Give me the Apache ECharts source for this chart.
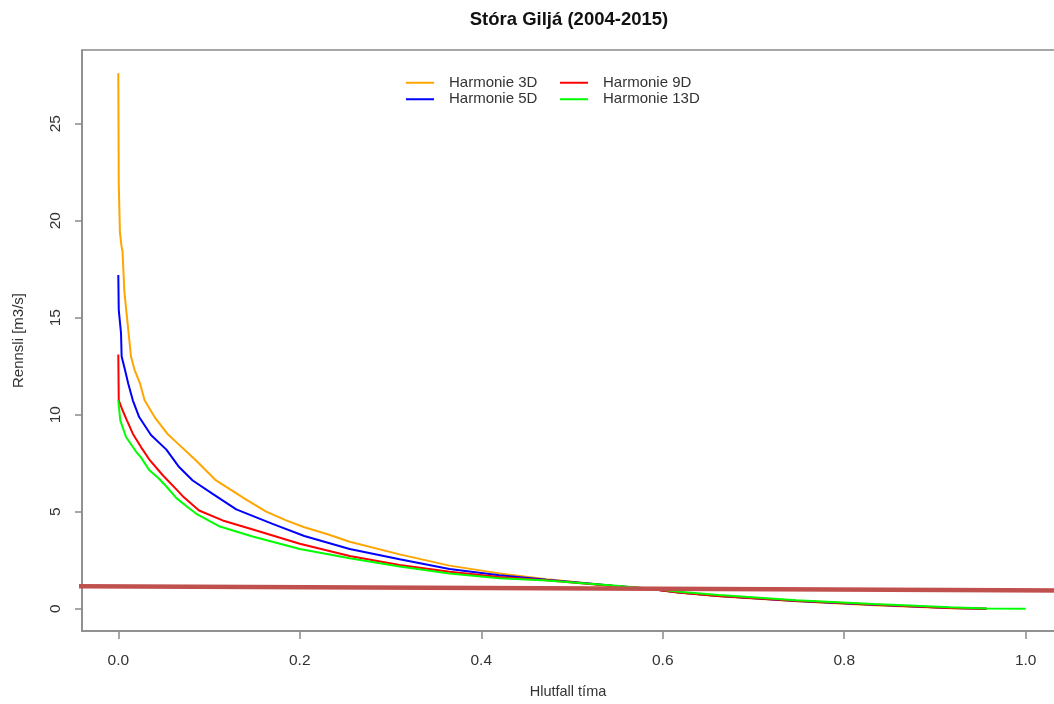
<!DOCTYPE html>
<html>
<head>
<meta charset="utf-8">
<script src="https://cdn.jsdelivr.net/npm/echarts@6/dist/echarts.min.js"></script>
<style>
html,body{margin:0;padding:0;background:#fff;overflow:hidden;}
#chart{width:1062px;height:704px;}
</style>
</head>
<body>
<div id="chart"></div>
<script>
// ---- data ----
const titleText = 'Stóra Giljá (2004-2015)';
const xName = 'Hlutfall tíma';
const yName = 'Rennsli [m3/s]';
const xTicks = [0, 0.2, 0.4, 0.6, 0.8, 1.0];
const yTicks = [0, 5, 10, 15, 20, 25];
const seriesNames = ['Harmonie 3D', 'Harmonie 5D', 'Harmonie 9D', 'Harmonie 13D'];

const h3x = [0, 0.0005, 0.0015, 0.0018, 0.0026, 0.0035, 0.0047, 0.0066, 0.0095, 0.014, 0.018, 0.024, 0.029, 0.040, 0.054, 0.0636, 0.0857, 0.1077, 0.141, 0.163, 0.185, 0.205, 0.229, 0.255, 0.31, 0.365, 0.42, 0.472, 0.545, 0.582, 0.618, 0.662, 0.747, 0.832, 0.917, 0.957];
const h3y = [27.6, 21.9, 21.8, 19.4, 19.3, 18.7, 18.4, 16.4, 15.05, 13.0, 12.3, 11.6, 10.74, 9.88, 9.02, 8.6, 7.64, 6.61, 5.62, 5.0, 4.55, 4.2, 3.86, 3.45, 2.8, 2.22, 1.82, 1.52, 1.18, 1.04, 0.82, 0.64, 0.38, 0.18, 0.02, 0.0];

const h5x = [0, 0.0005, 0.003, 0.0037, 0.0074, 0.011, 0.016, 0.023, 0.036, 0.053, 0.067, 0.082, 0.104, 0.13, 0.17, 0.205, 0.255, 0.31, 0.365, 0.42, 0.472, 0.545, 0.582, 0.618, 0.662, 0.747, 0.832, 0.917, 0.957];
const h5y = [17.2, 15.4, 14.2, 13.0, 12.3, 11.6, 10.74, 9.88, 8.95, 8.2, 7.3, 6.61, 5.92, 5.12, 4.37, 3.75, 3.08, 2.55, 2.05, 1.72, 1.49, 1.18, 1.04, 0.84, 0.66, 0.40, 0.20, 0.04, 0.0];

const h9x = [0, 0.0005, 0.0047, 0.0095, 0.016, 0.025, 0.034, 0.049, 0.064, 0.071, 0.089, 0.115, 0.152, 0.2, 0.255, 0.31, 0.365, 0.42, 0.472, 0.545, 0.582, 0.618, 0.662, 0.747, 0.832, 0.917, 0.957];
const h9y = [13.1, 10.74, 10.23, 9.71, 9.02, 8.33, 7.7, 6.88, 6.15, 5.8, 5.06, 4.55, 4.03, 3.35, 2.72, 2.25, 1.9, 1.63, 1.46, 1.17, 1.04, 0.84, 0.66, 0.41, 0.21, 0.04, 0.0];

const h13x = [0, 0.0022, 0.0085, 0.0195, 0.025, 0.034, 0.045, 0.053, 0.064, 0.078, 0.086, 0.111, 0.148, 0.2, 0.255, 0.31, 0.365, 0.42, 0.472, 0.545, 0.582, 0.618, 0.662, 0.747, 0.832, 0.917, 0.957, 1.0];
const h13y = [10.74, 9.71, 8.85, 8.1, 7.8, 7.15, 6.7, 6.3, 5.7, 5.18, 4.89, 4.25, 3.72, 3.08, 2.6, 2.17, 1.82, 1.57, 1.45, 1.19, 1.06, 0.87, 0.70, 0.44, 0.24, 0.07, 0.01, 0.0];

const refLineX = [-0.048, 1.05];
const refLineY = [1.16, 0.93];

// ---- build ----
const pairs = (xs, ys) => xs.map((x, i) => [x, ys[i]]);
const colors = ['#FFA500', '#0000FF', '#FF0000', '#00FF00'];
const FONT = "'Liberation Sans', Arial, sans-serif";
const txt = '#333';
const boxColor = '#8a8a8a';

const chart = echarts.init(document.getElementById('chart'), null, {renderer: 'canvas'});
const curveData = [pairs(h3x, h3y), pairs(h5x, h5y), pairs(h9x, h9y), pairs(h13x, h13y)];

const series = seriesNames.map((n, i) => ({
  name: n, type: 'line', data: curveData[i], showSymbol: false, symbol: 'none',
  lineStyle: {color: colors[i], width: 2}, itemStyle: {color: colors[i]},
  animation: false, z: 2 + i
}));
series.push({
  name: 'ref', type: 'line', data: pairs(refLineX, refLineY), showSymbol: false, symbol: 'none',
  clip: false, lineStyle: {color: '#C0504D', width: 4.5}, animation: false, z: 10, silent: true
});

const legendCommon = {
  orient: 'vertical', top: 74.5, icon: 'rect', itemWidth: 28, itemHeight: 2, itemGap: 0,
  padding: 0, textStyle: {fontFamily: FONT, fontSize: 15, color: txt, lineHeight: 16.5, padding: [0, 0, 0, 10]}
};

chart.setOption({
  backgroundColor: '#fff',
  animation: false,
  title: {text: titleText, left: 564, top: 5, textAlign: 'center',
    textStyle: {fontFamily: FONT, fontSize: 18.5, fontWeight: 'bold', color: '#111'}},
  legend: [
    Object.assign({}, legendCommon, {left: 406, data: [seriesNames[0], seriesNames[1]]}),
    Object.assign({}, legendCommon, {left: 560, data: [seriesNames[2], seriesNames[3]]})
  ],
  grid: {left: 82, top: 50, width: 980, height: 581, show: true, borderColor: boxColor, borderWidth: 1.5, backgroundColor: 'transparent'},
  xAxis: {
    type: 'value', min: -0.04, max: 1.04,
    name: xName, nameLocation: 'middle', nameGap: 53,
    nameTextStyle: {fontFamily: FONT, fontSize: 14.5, color: txt, padding: [0, 8, 0, 0]},
    axisLine: {show: true, onZero: false, lineStyle: {color: boxColor, width: 1.5}},
    axisTick: {show: true, length: 8, customValues: xTicks, lineStyle: {color: boxColor, width: 1.5}},
    axisLabel: {customValues: xTicks, margin: 22, fontFamily: FONT, fontSize: 15.5, color: txt,
      formatter: v => Number(v).toFixed(1)},
    splitLine: {show: false}
  },
  yAxis: {
    type: 'value', min: -1.15, max: 28.8,
    name: yName, nameLocation: 'middle', nameGap: 56,
    nameTextStyle: {fontFamily: FONT, fontSize: 15, color: txt},
    axisLine: {show: true, onZero: false, lineStyle: {color: boxColor, width: 1.5}},
    axisTick: {show: true, length: 7, customValues: yTicks, lineStyle: {color: boxColor, width: 1.5}},
    axisLabel: {customValues: yTicks, rotate: 90, margin: 18, fontFamily: FONT, fontSize: 15.5, color: txt},
    splitLine: {show: false}
  },
  series: series
});
</script>
</body>
</html>
